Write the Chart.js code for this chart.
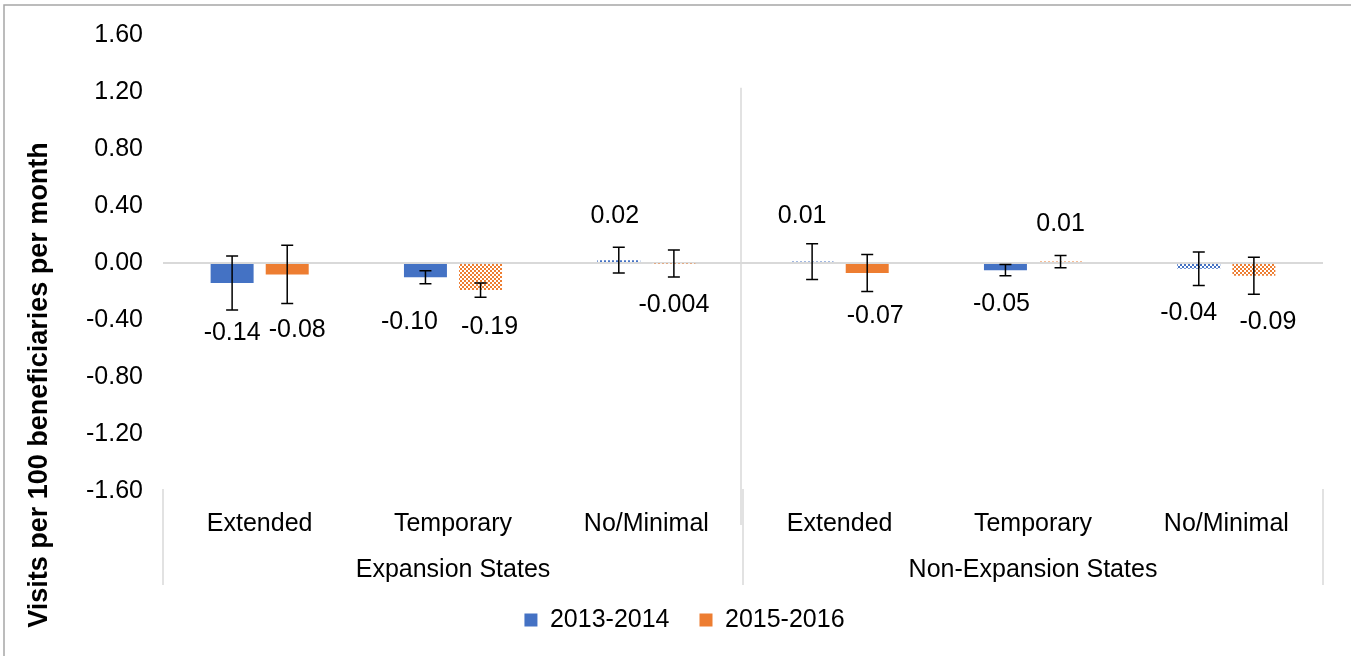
<!DOCTYPE html>
<html>
<head>
<meta charset="utf-8">
<script src="https://cdn.jsdelivr.net/npm/chart.js@4"></script>
<style>
  html, body { margin: 0; padding: 0; background: #fff; overflow: hidden; }
  #wrap { width: 1351px; height: 656px; position: relative; }
</style>
</head>
<body>
<div id="wrap"><canvas id="chart"></canvas></div>
<script>
// DATA
const categories = ['Extended', 'Temporary', 'No/Minimal', 'Extended', 'Temporary', 'No/Minimal'];
const groups = ['Expansion States', 'Non-Expansion States'];
const seriesNames = ['2013-2014', '2015-2016'];
const values2013 = [-0.14, -0.10, 0.02, 0.01, -0.05, -0.04];
const values2015 = [-0.08, -0.19, -0.004, -0.07, 0.01, -0.09];
const labels2013 = ['-0.14', '-0.10', '0.02', '0.01', '-0.05', '-0.04'];
const labels2015 = ['-0.08', '-0.19', '-0.004', '-0.07', '0.01', '-0.09'];
// half width of the error bars
const err2013 = [0.19, 0.045, 0.09, 0.125, 0.04, 0.118];
const err2015 = [0.205, 0.05, 0.095, 0.13, 0.043, 0.13];
// significant estimates are solid, the rest hatched
const sig2013 = [true, true, false, false, true, false];
const sig2015 = [true, false, false, true, false, false];
const yTicks = [-1.6, -1.2, -0.8, -0.4, 0, 0.4, 0.8, 1.2, 1.6];

// hand nudges of the value labels (px), as they were dragged in the original
const nudgeX = [[0, -16, -4, -10, -4, -10], [10, 9, 0, 8, 0, 14]];
const nudgeY = [[-5, 10, 0, 3, 0, 0], [-2, 2, 0, -3, 0, 0]];

const BLUE = '#4472C4';
const ORANGE = '#ED7D31';
const FONT = "'Liberation Sans', Arial, sans-serif";
Chart.defaults.font.family = FONT;
Chart.defaults.color = '#000';

function checker(color){
	const c = document.createElement('canvas');
	c.width = 4; c.height = 4;
	const g = c.getContext('2d');
	g.fillStyle = '#fff';
	g.fillRect(0, 0, 4, 4);
	g.fillStyle = color;
	g.fillRect(0, 0, 2, 2);
	g.fillRect(2, 2, 2, 2);
	return g.createPattern(c, 'repeat');
}

const errors = [err2013, err2015];
const valueLabels = [labels2013, labels2015];

// error bars, value labels, multi level axis and frame
const extras = {
	id: 'extras',
	afterDatasetsDraw(chart){
		const {ctx, scales: {y}} = chart;
		ctx.save();
		chart.data.datasets.forEach((ds, di) => {
			const meta = chart.getDatasetMeta(di);
			meta.data.forEach((bar, i) => {
				const v = ds.data[i], e = errors[di][i];
				const top = y.getPixelForValue(v + e);
				const bot = y.getPixelForValue(v - e);
				ctx.strokeStyle = '#000';
				ctx.lineWidth = 1.5;
				ctx.beginPath();
				ctx.moveTo(bar.x, top); ctx.lineTo(bar.x, bot);
				ctx.moveTo(bar.x - 6, top); ctx.lineTo(bar.x + 6, top);
				ctx.moveTo(bar.x - 6, bot); ctx.lineTo(bar.x + 6, bot);
				ctx.stroke();

				ctx.fillStyle = '#000';
				ctx.font = '25px ' + FONT;
				ctx.textAlign = 'center';
				ctx.textBaseline = 'middle';
				const ly = (v > 0 ? top - 31 : bot + 28) + nudgeY[di][i];
				ctx.fillText(valueLabels[di][i], bar.x + nudgeX[di][i], ly);
			});
		});
		ctx.restore();
	},
	afterDraw(chart){
		const {ctx, chartArea: area, scales: {x, y}} = chart;
		ctx.save();
		const mid = (x.getPixelForValue(2) + x.getPixelForValue(3)) / 2;
		ctx.strokeStyle = '#d9d9d9';
		ctx.lineWidth = 1.5;
		ctx.beginPath();
		// divider inside the plot
		ctx.moveTo(mid - 2, y.getPixelForValue(1.23));
		ctx.lineTo(mid - 2, area.bottom + 34);
		// group separators under the axis
		[area.left, mid, area.right].forEach(px => {
			ctx.moveTo(px, area.bottom - 2);
			ctx.lineTo(px, area.bottom + 94);
		});
		ctx.stroke();

		ctx.fillStyle = '#000';
		ctx.font = '25px ' + FONT;
		ctx.textAlign = 'center';
		ctx.textBaseline = 'middle';
		ctx.fillText(groups[0], (area.left + mid) / 2, area.bottom + 79);
		ctx.fillText(groups[1], (mid + area.right) / 2, area.bottom + 79);

		// axis title
		ctx.save();
		ctx.translate(40, 385);
		ctx.rotate(-Math.PI / 2);
		ctx.font = 'bold 27px ' + FONT;
		ctx.fillText('Visits per 100 beneficiaries per month', 0, 0);
		ctx.restore();

		// chart frame
		ctx.strokeStyle = '#a6a6a6';
		ctx.lineWidth = 1.5;
		ctx.beginPath();
		ctx.moveTo(4, 656);
		ctx.lineTo(4, 5);
		ctx.lineTo(1351, 5);
		ctx.stroke();
		ctx.restore();
	}
};

new Chart(document.getElementById('chart'), {
	type: 'bar',
	data: {
		labels: categories,
		datasets: [{
			label: seriesNames[0],
			data: values2013,
			backgroundColor: sig2013.map(s => s ? BLUE : checker(BLUE)),
			borderWidth: 0
		},{
			label: seriesNames[1],
			data: values2015,
			backgroundColor: sig2015.map(s => s ? ORANGE : checker(ORANGE)),
			borderWidth: 0
		}]
	},
	options: {
		responsive: true,
		maintainAspectRatio: false,
		animation: false,
		datasets: { bar: { categoryPercentage: 0.57, barPercentage: 0.78 } },
		layout: { padding: { top: 33, left: 46, right: 28, bottom: 13.5 } },
		plugins: {
			legend: {
				position: 'bottom',
				labels: {
					boxWidth: 13, boxHeight: 13, padding: 30,
					font: { size: 25 }, color: '#000',
					generateLabels: () => [BLUE, ORANGE].map((c, i) => ({
						text: seriesNames[i], fillStyle: c, strokeStyle: c,
						lineWidth: 0, datasetIndex: i, fontColor: '#000'
					}))
				}
			},
			tooltip: { enabled: false }
		},
		scales: {
			x: {
				grid: { display: false },
				border: { display: false },
				ticks: { font: { size: 25 }, color: '#000', padding: 10, maxRotation: 0, autoSkip: false },
				afterFit(scale){ scale.height = 86.5; }
			},
			y: {
				min: yTicks[0],
				max: yTicks[yTicks.length - 1],
				afterBuildTicks(scale){ scale.ticks = yTicks.map(v => ({ value: v })); },
				grid: {
					drawTicks: false,
					lineWidth: 2,
					color: c => Math.abs(c.tick.value) < 1e-9 ? '#d9d9d9' : 'rgba(0,0,0,0)'
				},
				border: { display: false },
				ticks: {
					font: { size: 25 }, color: '#000', padding: 20,
					callback: v => v.toFixed(2)
				},
				afterFit(scale){ scale.width = 117; }
			}
		}
	},
	plugins: [extras]
});
</script>
</body>
</html>
